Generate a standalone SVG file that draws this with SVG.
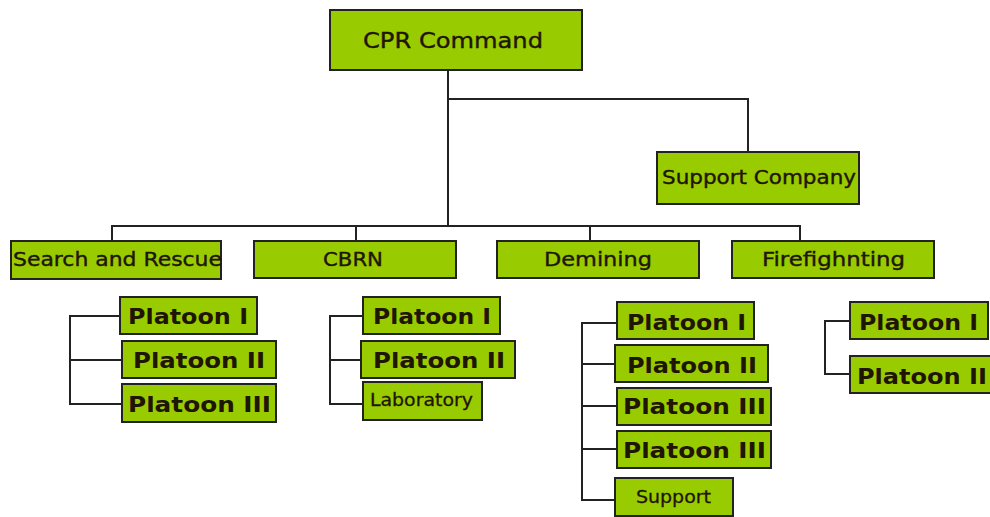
<svg xmlns="http://www.w3.org/2000/svg" width="990" height="517" viewBox="0 0 990 517">
<style>
.box{fill:#99cc00;stroke:#222;stroke-width:2}
.ln{fill:none;stroke:#222;stroke-width:2}
.t{font-family:"DejaVu Sans",Verdana,sans-serif;fill:#1f1500}
.h{font-size:20px;stroke:#1f1500;stroke-width:0.4}
.p{font-size:22px;font-weight:bold}
.s{font-size:17px;stroke:#1f1500;stroke-width:0.3}
</style>
<rect width="990" height="517" fill="#fff"/>
<g id="connectors">
<path class="ln" d="M448,70 V226 M448,99 H748 V152 M112,241 V226 H800 V241 M356,226 V241 M590,226 V241"/>
<path class="ln" d="M120,316 H70 V404 H122 M70,360 H122"/>
<path class="ln" d="M363,316 H330 V404 H363 M330,360 H361"/>
<path class="ln" d="M617,323 H582 V500 H615 M582,364 H615 M582,406 H617 M582,449 H617"/>
<path class="ln" d="M850,321 H825 V374 H850"/>
</g>
<g id="cpr"><rect class="box" x="330" y="10" width="252" height="60"/><text class="t" x="363" y="48" font-size="22" stroke="#1f1500" stroke-width="0.4" textLength="180" lengthAdjust="spacingAndGlyphs">CPR Command</text></g>
<g id="support-company"><rect class="box" x="657" y="152" width="202" height="52"/><text class="t h" x="662" y="184" textLength="194" lengthAdjust="spacingAndGlyphs">Support Company</text></g>
<g id="sar"><rect class="box" x="11" y="241" width="210" height="38"/><text class="t h" x="13" y="266" textLength="209" lengthAdjust="spacingAndGlyphs">Search and Rescue</text></g>
<g id="cbrn"><rect class="box" x="254" y="241" width="202" height="37"/><text class="t h" x="323" y="266" textLength="60" lengthAdjust="spacingAndGlyphs">CBRN</text></g>
<g id="demining"><rect class="box" x="497" y="241" width="202" height="37"/><text class="t h" x="544" y="266" textLength="108" lengthAdjust="spacingAndGlyphs">Demining</text></g>
<g id="firefighting"><rect class="box" x="732" y="241" width="202" height="37"/><text class="t h" x="762" y="266" textLength="143" lengthAdjust="spacingAndGlyphs">Firefighnting</text></g>
<g id="sar-p1"><rect class="box" x="120" y="297" width="137" height="37"/><text class="t p" x="128" y="324" textLength="120" lengthAdjust="spacingAndGlyphs">Platoon I</text></g>
<g id="sar-p2"><rect class="box" x="122" y="341" width="154" height="37"/><text class="t p" x="133" y="368" textLength="132" lengthAdjust="spacingAndGlyphs">Platoon II</text></g>
<g id="sar-p3"><rect class="box" x="122" y="384" width="154" height="38"/><text class="t p" x="128" y="412" textLength="143" lengthAdjust="spacingAndGlyphs">Platoon III</text></g>
<g id="cbrn-p1"><rect class="box" x="363" y="297" width="137" height="37"/><text class="t p" x="373" y="324" textLength="118" lengthAdjust="spacingAndGlyphs">Platoon I</text></g>
<g id="cbrn-p2"><rect class="box" x="361" y="341" width="154" height="37"/><text class="t p" x="373" y="368" textLength="132" lengthAdjust="spacingAndGlyphs">Platoon II</text></g>
<g id="cbrn-lab"><rect class="box" x="363" y="382" width="119" height="38"/><text class="t s" x="370" y="406" textLength="103" lengthAdjust="spacingAndGlyphs">Laboratory</text></g>
<g id="dem-p1"><rect class="box" x="617" y="302" width="137" height="37"/><text class="t p" x="627" y="330" textLength="119" lengthAdjust="spacingAndGlyphs">Platoon I</text></g>
<g id="dem-p2"><rect class="box" x="615" y="345" width="153" height="37"/><text class="t p" x="627" y="373" textLength="130" lengthAdjust="spacingAndGlyphs">Platoon II</text></g>
<g id="dem-p3"><rect class="box" x="617" y="388" width="154" height="37"/><text class="t p" x="623" y="414" textLength="143" lengthAdjust="spacingAndGlyphs">Platoon III</text></g>
<g id="dem-p3b"><rect class="box" x="617" y="431" width="154" height="37"/><text class="t p" x="623" y="458" textLength="143" lengthAdjust="spacingAndGlyphs">Platoon III</text></g>
<g id="dem-support"><rect class="box" x="615" y="478" width="118" height="38"/><text class="t s" x="636" y="503" textLength="75" lengthAdjust="spacingAndGlyphs">Support</text></g>
<g id="ff-p1"><rect class="box" x="850" y="302" width="138" height="37"/><text class="t p" x="859" y="330" textLength="119" lengthAdjust="spacingAndGlyphs">Platoon I</text></g>
<g id="ff-p2"><rect class="box" x="850" y="356" width="145" height="37"/><text class="t p" x="857" y="384" textLength="130" lengthAdjust="spacingAndGlyphs">Platoon II</text></g>
</svg>
